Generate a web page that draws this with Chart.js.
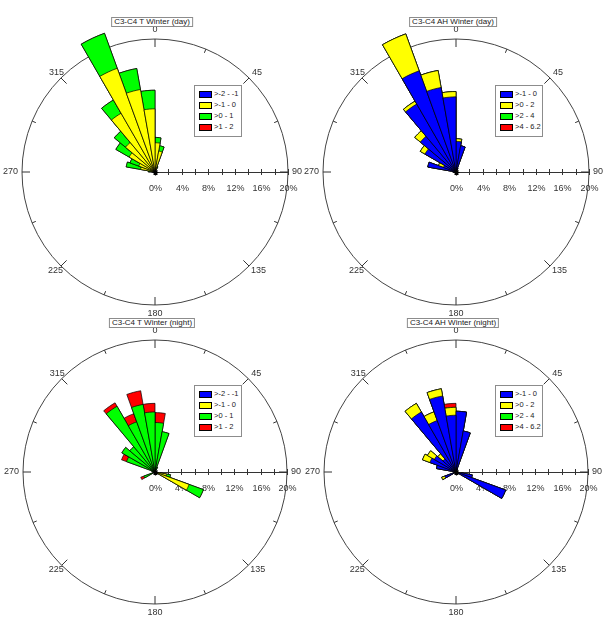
<!DOCTYPE html>
<html>
<head>
<meta charset="utf-8">
<script src="https://cdn.jsdelivr.net/npm/chart.js@4.4.0/dist/chart.umd.min.js"></script>
<style>
  body { margin: 0; background: #fff; font-family: Arial, "Liberation Sans", sans-serif; }
  #page { position: relative; width: 611px; height: 625px; overflow: hidden; }
  #page canvas { position: absolute; }
  .titulo { position: absolute; border: 1px solid #8c8c8c; background: #fff; font-size: 8px; line-height: 8px;
            padding: 0 2px; color: #222; white-space: nowrap; transform: translateX(-50%); }
  .legenda { position: absolute; width: 46px; height: 50px; border: 1px solid #8c8c8c; background: #fff; }
  .legenda div { position: absolute; left: 4px; font-size: 7.5px; line-height: 8px; white-space: nowrap; color: #222; }
  .legenda span { display: inline-block; width: 11px; height: 5px; border: 1px solid #000; vertical-align: middle; margin-right: 2px; }
</style>
</head>
<body>
<div id="page">
  <canvas id="roseTDia" width="305" height="320"></canvas>
  <canvas id="roseAHDia" width="305" height="320"></canvas>
  <canvas id="roseTNoite" width="305" height="320"></canvas>
  <canvas id="roseAHNoite" width="305" height="320"></canvas>
</div>
<script>
// Setores de 10° (início do setor, em graus)
const setores = ['0','10','20','30','40','50','60','70','80','90','100','110','120','130','140','150','160','170',
                 '180','190','200','210','220','230','240','250','260','270','280','290','300','310','320','330','340','350'];
const rotulosAngulo = ['0', '45', '90', '135', '180', '225', '270', '315'];
const rotulosPct = ['0%', '4%', '8%', '12%', '16%', '20%'];
const classesT = ['>-2 - -1', '>-1 - 0', '>0 - 1', '>1 - 2'];
const classesAH = ['>-1 - 0', '>0 - 2', '>2 - 4', '>4 - 6.2'];
const cores = ['#0000FF', '#FFFF00', '#00FF00', '#FF0000'];

// C3-C4 T Winter (day) - frequência (%) por setor
const tDiaAzul    = [0,0,0,0,0,0,0,0,0,0, 0,0,0,0,0,0,0,0,0,0, 0,0,0,0,0,0,0,0,0,0, 0,0,0,0,0,0];
const tDiaAmarelo = [4.4,3.2,0.6,0.2,0,0,0,0,0,0.2, 0,0,0,0,0,0,0,0,0,0, 0,0,0,0,0,0,0.3,0.6,2.2,2.6, 4.5,5.8,10.2,16.6,12.6,9.5];
const tDiaVerde   = [0.8,0.8,0.3,0,0,0,0,0,0,0, 0,0,0,0,0,0,0,0,0,0, 0,0,0,0,0,0,0,0.4,2.2,1.4, 2.3,2.2,2.3,5.6,3.2,2.8];
const tDiaVermelho= [0,0,0,0,0,0,0,0,0,0, 0,0,0,0,0,0,0,0,0,0, 0,0,0,0,0,0,0,0,0,0, 0,0,0,0,0,0];

// C3-C4 AH Winter (day)
const ahDiaAzul    = [4.6,4.0,0.6,0.2,0,0,0,0,0,0, 0,0,0,0,0,0,0,0,0,0, 0,0,0,0,0,0,0.3,0.5,4.3,2.0, 5.4,7.0,11.8,16.2,12.9,11.3];
const ahDiaAmarelo = [0.4,0,0,0,0,0,0,0,0,0, 0,0,0,0,0,0,0,0,0,0, 0,0,0,0,0,0,0,0,0,0.8, 0.8,1.1,0.5,5.9,2.6,0.8];
const ahDiaVerde   = [0,0,0,0,0,0,0,0,0,0, 0,0,0,0,0,0,0,0,0,0, 0,0,0,0,0,0,0,0,0,0, 0,0,0,0,0,0];
const ahDiaVermelho= [0,0,0,0,0,0,0,0,0,0, 0,0,0,0,0,0,0,0,0,0, 0,0,0,0,0,0,0,0,0,0, 0,0,0,0,0,0];

// C3-C4 T Winter (night)
const tNoiteAzul    = [0,0,0,0,0,0,0,0,0,0, 0,0,0,0,0,0,0,0,0,0, 0,0,0,0,0,0,0,0,0,0, 0,0,0,0,0,0];
const tNoiteAmarelo = [0,0,0,0,0,0,0,0,0,0, 1.8,5.5,0.3,0,0,0,0,0,0,0, 0,0,0,0,0,0,0,0,0,0, 0,0,0,0,0,0];
const tNoiteVerde   = [7.5,6.2,0.8,0,0,0,0,0,0,0, 0.6,2.3,0,0,0,0,0,0,0,0, 0,0,0,0,1.8,0,0,0,0.5,4.6, 5.8,5.0,11.5,8.1,10.4,9.1];
const tNoiteVermelho= [1.5,0,0,0,0,0,0,0,0,0, 0,0,0,0,0,0,0,0,0,0, 0,0,0,0,0.5,0,0,0,0,0.8, 0,0,0.6,1.3,2.1,1.3];

// C3-C4 AH Winter (night)
const ahNoiteAzul    = [9.2,6.3,0.5,0,0,0,0,0,0,0, 2.5,8.0,0,0,0,0,0,0,0,0, 0,0,0,0,1.8,0,0,0,3.0,4.2, 3.8,2.6,10.5,8.3,11.7,8.6];
const ahNoiteAmarelo = [0,0,0,0,0,0,0,0,0,0, 0,0,0,0,0,0,0,0,0,0, 0,0,0,0,0.5,0,0,0,0,1.2, 1.2,1.0,1.5,1.4,1.1,1.2];
const ahNoiteVerde   = [0,0,0,0,0,0,0,0,0,0, 0,0,0,0,0,0,0,0,0,0, 0,0,0,0,0,0,0,0,0,0, 0,0,0,0,0,0];
const ahNoiteVermelho= [0,0,0,0,0,0,0,0,0,0, 0,0,0,0,0,0,0,0,0,0, 0,0,0,0,0,0,0,0,0,0, 0,0,0,0,0,0.6];

// Plugin: marcas da circunferência, eixo radial e rótulos
const decoracao = {
    id: 'decoracao',
    beforeDatasetsDraw(chart) {
        const s = chart.scales.r, ctx = chart.ctx;
        const cx = s.xCenter, cy = s.yCenter, R = s.drawingArea;
        ctx.save();
        ctx.strokeStyle = '#333';
        ctx.lineWidth = 1;
        for (let k = 0; k < 16; k++) {
            const a = k * 22.5 * Math.PI / 180;
            const len = k % 2 === 0 ? 8 : 4;
            ctx.beginPath();
            ctx.moveTo(cx + Math.sin(a) * R, cy - Math.cos(a) * R);
            ctx.lineTo(cx + Math.sin(a) * (R - len), cy - Math.cos(a) * (R - len));
            ctx.stroke();
        }
        // eixo radial para leste
        ctx.beginPath();
        ctx.moveTo(cx, cy + 0.5);
        ctx.lineTo(cx + R, cy + 0.5);
        ctx.stroke();
        ctx.font = '9px Arial, "Liberation Sans", sans-serif';
        ctx.fillStyle = '#333';
        ctx.textAlign = 'center';
        ctx.textBaseline = 'top';
        s.ticks.forEach((t) => {
            const x = Math.round(cx + s.getDistanceFromCenterForValue(t.value)) + 0.5;
            ctx.beginPath();
            ctx.moveTo(x, cy - 3);
            ctx.lineTo(x, cy + 3);
            ctx.stroke();
            if (t.label) ctx.fillText(t.label, x, cy + 12);
        });
        // rótulos de direção
        const d = 0.7071 * R;
        const pos = [
            [cx, cy - R - 9, 'center'],
            [cx + d + 3, cy - d - 5, 'left'],
            [cx + R + 4, cy, 'left'],
            [cx + d + 2, cy + d + 4, 'left'],
            [cx, cy + R + 9, 'center'],
            [cx - d + 2, cy + d + 4, 'right'],
            [cx - R - 4, cy, 'right'],
            [cx - d + 3, cy - d - 5, 'right'],
        ];
        ctx.textBaseline = 'middle';
        rotulosAngulo.forEach((txt, i) => {
            ctx.textAlign = pos[i][2];
            ctx.fillText(txt, pos[i][0], pos[i][1]);
        });
        ctx.restore();
    },
    afterDatasetsDraw(chart) {
        // pequeno asterisco no centro
        const s = chart.scales.r, ctx = chart.ctx;
        const cx = s.xCenter + 0.5, cy = s.yCenter + 0.5;
        ctx.save();
        ctx.strokeStyle = '#000';
        ctx.lineWidth = 1.2;
        ctx.beginPath();
        ctx.moveTo(cx - 3, cy); ctx.lineTo(cx + 3, cy);
        ctx.moveTo(cx, cy - 3); ctx.lineTo(cx, cy + 3);
        ctx.moveTo(cx - 2, cy - 2); ctx.lineTo(cx + 2, cy + 2);
        ctx.moveTo(cx - 2, cy + 2); ctx.lineTo(cx + 2, cy - 2);
        ctx.stroke();
        ctx.restore();
    },
};

function criarRosa(id, left, top, raio, titulo, classes, series) {
    const canvas = document.getElementById(id);
    canvas.style.left = left + 'px';
    canvas.style.top = top + 'px';
    // acumula as classes (a de dentro primeiro)
    let acum = setores.map(() => 0);
    const datasets = series.map((serie, k) => {
        acum = acum.map((v, i) => +(v + serie[i]).toFixed(2));
        return {
            label: classes[k],
            data: acum.slice(),
            backgroundColor: cores[k],
            borderColor: '#000',
            borderWidth: 0.7,
            clip: false,
        };
    });
    new Chart(canvas.getContext('2d'), {
        type: 'polarArea',
        data: { labels: setores, datasets: datasets },
        options: {
            responsive: false,
            animation: false,
            events: [],
            layout: { padding: { left: 155 - raio, right: 150 - raio, top: 172 - raio, bottom: 148 - raio } },
            plugins: { legend: { display: false }, tooltip: { enabled: false } },
            scales: {
                r: {
                    min: 0,
                    max: 20,
                    startAngle: 0,
                    ticks: {
                        display: false,
                        stepSize: 2,
                        callback: (v) => (v % 4 === 0 ? rotulosPct[v / 4] : ''),
                    },
                    grid: {
                        circular: true,
                        lineWidth: 1,
                        color: (c) => (c.tick && c.tick.value === 20 ? '#444' : 'rgba(0,0,0,0)'),
                    },
                    angleLines: { display: false },
                    pointLabels: { display: false },
                },
            },
        },
        plugins: [decoracao],
    });

    // título e legenda em HTML
    const page = document.getElementById('page');
    const cx = left + 155, cy = top + 172;
    const t = document.createElement('div');
    t.className = 'titulo';
    t.textContent = titulo;
    t.style.left = (cx - 3) + 'px';
    t.style.top = (cy - raio - 22) + 'px';
    page.appendChild(t);
    const lg = document.createElement('div');
    lg.className = 'legenda';
    lg.style.left = (cx + 39) + 'px';
    lg.style.top = (cy - 87) + 'px';
    classes.forEach((c, k) => {
        const row = document.createElement('div');
        row.style.top = (4 + k * 11) + 'px';
        row.innerHTML = '<span style="background:' + cores[k] + '"></span>';
        row.appendChild(document.createTextNode(c));
        lg.appendChild(row);
    });
    page.appendChild(lg);
}

criarRosa('roseTDia', 0, 0, 133, 'C3-C4 T Winter (day)', classesT, [tDiaAzul, tDiaAmarelo, tDiaVerde, tDiaVermelho]);
criarRosa('roseAHDia', 301, 0, 133, 'C3-C4 AH Winter (day)', classesAH, [ahDiaAzul, ahDiaAmarelo, ahDiaVerde, ahDiaVermelho]);
criarRosa('roseTNoite', 0, 300, 132, 'C3-C4 T Winter (night)', classesT, [tNoiteAzul, tNoiteAmarelo, tNoiteVerde, tNoiteVermelho]);
criarRosa('roseAHNoite', 301, 300, 132, 'C3-C4 AH Winter (night)', classesAH, [ahNoiteAzul, ahNoiteAmarelo, ahNoiteVerde, ahNoiteVermelho]);
</script>
</body>
</html>
